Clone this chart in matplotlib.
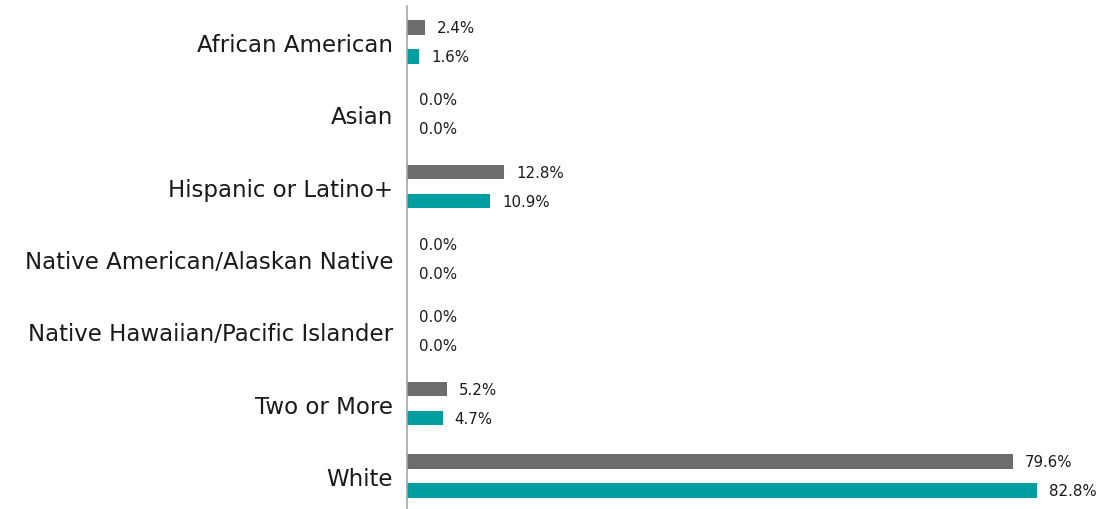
import matplotlib.pyplot as plt
import numpy as np

categories = ["African American", "Asian", "Hispanic or Latino+",
              "Native American/Alaskan Native", "Native Hawaiian/Pacific Islander",
              "Two or More", "White"]
series_a = [2.4, 0.0, 12.8, 0.0, 0.0, 5.2, 79.6]
series_b = [1.6, 0.0, 10.9, 0.0, 0.0, 4.7, 82.8]

GRAY = "#6d6b6b"
TEAL = "#009ea0"

fig = plt.figure(figsize=(11.04, 5.10), dpi=100)
ax = fig.add_axes([407 / 1104, -3 / 510, 685 / 1104, 506 / 510])

y = np.arange(len(categories))
h = 0.2
bars_a = ax.barh(y - 0.2, series_a, height=h, color=GRAY)
bars_b = ax.barh(y + 0.2, series_b, height=h, color=TEAL)

# ---- value labels ----
for bars, vals in [(bars_a, series_a), (bars_b, series_b)]:
    for b, v in zip(bars, vals):
        ax.annotate(f"{v:.1f}%", (v, b.get_y() + b.get_height() / 2),
                    xytext=(12, 0), textcoords="offset pixels",
                    ha="left", va="center", fontsize=10.8, color="#1a1a1a")

ax.set_xlim(0, 90)
ax.set_ylim(len(categories) - 0.5, -0.5)
ax.set_yticks(y)
ax.set_yticklabels(categories, fontsize=16.5, color="#1a1a1a")
ax.tick_params(axis="y", length=0, pad=10)
ax.set_xticks([])

for s in ["top", "right", "bottom"]:
    ax.spines[s].set_visible(False)
ax.spines["left"].set_color("#a6a6a6")
ax.spines["left"].set_linewidth(1.2)

fig.savefig("out.png", dpi=100)
